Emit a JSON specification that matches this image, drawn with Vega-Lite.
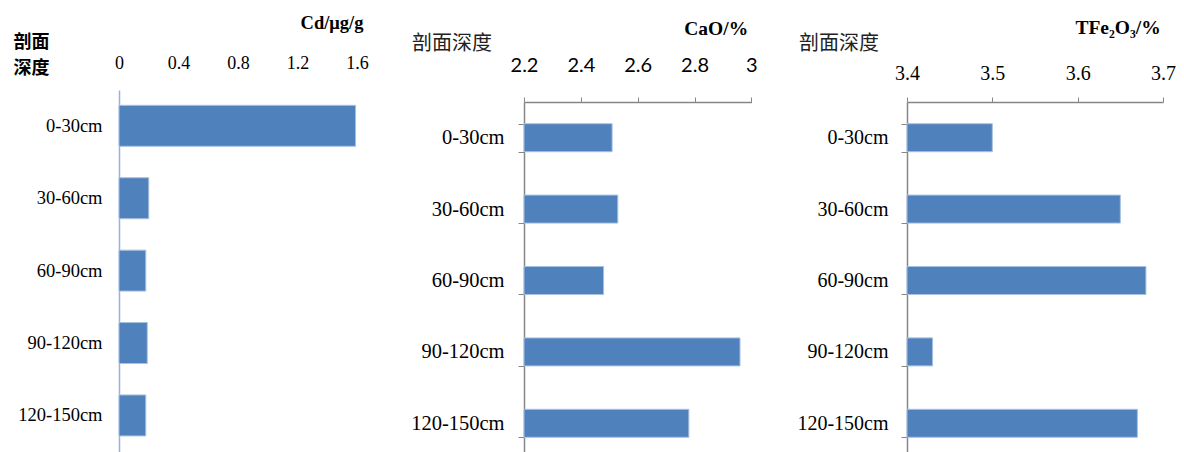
{
  "$schema": "https://vega.github.io/schema/vega-lite/v6.json",
  "background": "white",
  "padding": {"left": 13, "top": 13, "right": 5, "bottom": 0},
  "data": {"values": [
    {"depth": "0-30cm", "Cd": 1.59, "CaO": 2.51, "TFe2O3": 3.50},
    {"depth": "30-60cm", "Cd": 0.20, "CaO": 2.53, "TFe2O3": 3.65},
    {"depth": "60-90cm", "Cd": 0.18, "CaO": 2.48, "TFe2O3": 3.68},
    {"depth": "90-120cm", "Cd": 0.19, "CaO": 2.96, "TFe2O3": 3.43},
    {"depth": "120-150cm", "Cd": 0.18, "CaO": 2.78, "TFe2O3": 3.67}
  ]},
  "bounds": "flush",
  "center": true,
  "spacing": 155,
  "config": {"view": {"stroke": null}, "axis": {"grid": false, "labelColor": "#000", "titleColor": "#000", "labelFlush": false, "labelOverlap": false}},
  "hconcat": [
    {
      "width": 250,
      "height": 381,
      "mark": {"type": "bar", "color": "#4F81BD", "stroke": "#A9C1E0", "strokeWidth": 1},
      "encoding": {
        "y": {"field": "depth", "type": "nominal", "sort": ["0-30cm", "30-60cm", "60-90cm", "90-120cm", "120-150cm"],
          "scale": {"paddingInner": 0.434, "paddingOuter": 0.348, "align": 0.304},
          "axis": {"title": ["剖面", "深度"], "titleAngle": 0, "titleAlign": "left", "titleBaseline": "middle", "titleX": -106, "titleY": -47.2, "titleFont": "Noto Sans CJK SC", "titleFontSize": 18, "titleFontWeight": "bold", "titleLineHeight": 26,
            "labelFont": "Liberation Serif", "labelFontSize": 18.5, "labelPadding": 17, "ticks": false, "tickSize": 0, "domainColor": "#95B3D7", "domainWidth": 1.5}},
        "x": {"field": "Cd", "type": "quantitative", "stack": null, "scale": {"domain": [0, 1.68], "nice": false, "zero": true},
          "axis": {"orient": "top", "values": [0, 0.4, 0.8, 1.2, 1.6], "format": ".1~f", "domain": false, "ticks": false, "tickSize": 0, "labelPadding": 21.5, "labelBaseline": "alphabetic", "labelFont": "Liberation Serif", "labelFontSize": 18,
            "title": "Cd/μg/g", "titleFont": "Liberation Serif", "titleFontWeight": "bold", "titleFontSize": 18.5, "titleAlign": "right", "titleBaseline": "alphabetic", "titleX": 244, "titleY": -61.5}},
        "x2": {"datum": 0}
      }
    },
    {
      "width": 227.4,
      "height": 357,
      "mark": {"type": "bar", "color": "#4F81BD", "stroke": "#A9C1E0", "strokeWidth": 1},
      "encoding": {
        "y": {"field": "depth", "type": "nominal", "sort": ["0-30cm", "30-60cm", "60-90cm", "90-120cm", "120-150cm"],
          "scale": {"paddingInner": 0.608, "paddingOuter": 0.304},
          "axis": {"title": "剖面深度", "titleAngle": 0, "titleAlign": "left", "titleBaseline": "middle", "titleX": -112.6, "titleY": -58.3, "titleFont": "Noto Sans CJK SC", "titleFontSize": 20, "titleFontWeight": "normal", "titleColor": "#222",
            "labelFont": "Liberation Serif", "labelFontSize": 20.5, "labelPadding": 14, "tickBand": "extent", "tickSize": 6, "tickColor": "#868686", "domainColor": "#868686", "domainWidth": 1.5}},
        "x": {"field": "CaO", "type": "quantitative", "stack": null, "scale": {"domain": [2.2, 3], "nice": false, "zero": false},
          "axis": {"orient": "top", "values": [2.2, 2.4, 2.6, 2.8, 3], "format": ".1~f", "tickSize": 5, "tickColor": "#868686", "domainColor": "#868686", "domainWidth": 1.5, "labelPadding": 26, "labelBaseline": "alphabetic", "labelFont": "Lato", "labelFontSize": 20,
            "title": "CaO/%", "titleFont": "Liberation Serif", "titleFontWeight": "bold", "titleFontSize": 19.5, "titleAlign": "right", "titleBaseline": "alphabetic", "titleX": 223.7, "titleY": -68}},
        "x2": {"datum": 2.2}
      }
    },
    {
      "width": 256,
      "height": 357,
      "mark": {"type": "bar", "color": "#4F81BD", "stroke": "#A9C1E0", "strokeWidth": 1},
      "encoding": {
        "y": {"field": "depth", "type": "nominal", "sort": ["0-30cm", "30-60cm", "60-90cm", "90-120cm", "120-150cm"],
          "scale": {"paddingInner": 0.608, "paddingOuter": 0.304},
          "axis": {"title": "剖面深度", "titleAngle": 0, "titleAlign": "left", "titleBaseline": "middle", "titleX": -108.4, "titleY": -58.3, "titleFont": "Noto Sans CJK SC", "titleFontSize": 20, "titleFontWeight": "normal", "titleColor": "#222",
            "labelFont": "Liberation Serif", "labelFontSize": 20, "labelPadding": 13, "tickBand": "extent", "tickSize": 6, "tickColor": "#868686", "domainColor": "#868686", "domainWidth": 1.5}},
        "x": {"field": "TFe2O3", "type": "quantitative", "stack": null, "scale": {"domain": [3.4, 3.7], "nice": false, "zero": false},
          "axis": {"orient": "top", "values": [3.4, 3.5, 3.6, 3.7], "format": ".1~f", "tickSize": 5, "tickColor": "#868686", "domainColor": "#868686", "domainWidth": 1.5, "labelPadding": 17.5, "labelBaseline": "alphabetic", "labelFont": "Liberation Serif", "labelFontSize": 20,
            "title": "TFe₂O₃/%", "titleFont": "Liberation Serif", "titleFontWeight": "bold", "titleFontSize": 19.5, "titleAlign": "right", "titleBaseline": "alphabetic", "titleX": 253.3, "titleY": -68.5}},
        "x2": {"datum": 3.4}
      }
    }
  ]
}
